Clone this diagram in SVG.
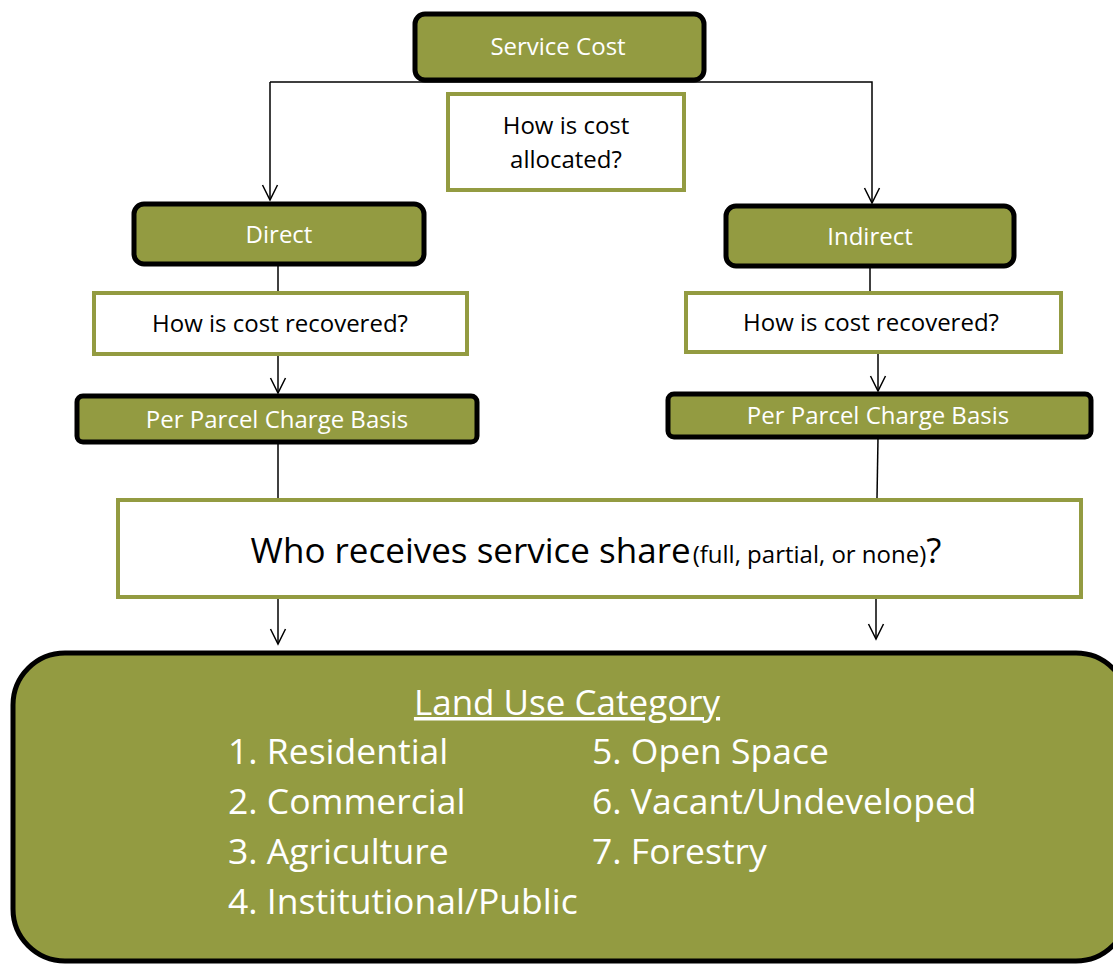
<svg xmlns="http://www.w3.org/2000/svg" width="1113" height="964" viewBox="0 0 1113 964">
<defs>
<marker id="arr" markerWidth="18" markerHeight="18" refX="16" refY="9" orient="auto" markerUnits="userSpaceOnUse" viewBox="0 0 18 18">
<path d="M1,1.5 L16,9 L1,16.5" fill="none" stroke="#000" stroke-width="1.5"/>
</marker>
<style>
.g{fill:#939B41;stroke:#000;stroke-width:5}
.w{fill:#fff;stroke:#939B41;stroke-width:4}
.tw{font-family:"Open Sans","Liberation Sans",sans-serif;fill:#fff;text-anchor:middle}
.tb{font-family:"Open Sans","Liberation Sans",sans-serif;fill:#000;text-anchor:middle}
.c{fill:none;stroke:#000;stroke-width:1.5}
.li{font-family:"Open Sans","Liberation Sans",sans-serif;fill:#fff;font-size:35.5px}
</style>
</defs>
<rect width="1113" height="964" fill="#fff"/>
<g id="connectors">
<polyline class="c" points="270,82 270,200" marker-end="url(#arr)"/>
<polyline class="c" points="270,82 872,82 872,203" marker-end="url(#arr)"/>
<line class="c" x1="278" y1="265" x2="278" y2="293"/>
<line class="c" x1="278" y1="355" x2="278" y2="393" marker-end="url(#arr)"/>
<line class="c" x1="870" y1="267" x2="870" y2="292"/>
<line class="c" x1="878" y1="353" x2="878" y2="391" marker-end="url(#arr)"/>
<line class="c" x1="278" y1="443" x2="278" y2="498"/>
<line class="c" x1="878" y1="438" x2="877" y2="498"/>
<line class="c" x1="278" y1="598" x2="278" y2="644" marker-end="url(#arr)"/>
<line class="c" x1="876" y1="598" x2="876" y2="639" marker-end="url(#arr)"/>
</g>
<g id="service-cost">
<rect class="g" x="415" y="14" width="289" height="66" rx="10"/>
<text class="tw" x="558" y="55" font-size="24">Service Cost</text>
</g>
<g id="allocated">
<rect class="w" x="448" y="94" width="236" height="96"/>
<text class="tb" x="566" y="134" font-size="24">How is cost</text>
<text class="tb" x="566" y="168" font-size="24">allocated?</text>
</g>
<g id="direct">
<rect class="g" x="134" y="204" width="290" height="60" rx="10"/>
<text class="tw" x="279" y="243" font-size="24">Direct</text>
</g>
<g id="indirect">
<rect class="g" x="726" y="206" width="288" height="60" rx="10"/>
<text class="tw" x="870" y="245" font-size="24">Indirect</text>
</g>
<g id="recovered-left">
<rect class="w" x="94" y="293" width="373" height="61"/>
<text class="tb" x="280" y="332" font-size="24">How is cost recovered?</text>
</g>
<g id="recovered-right">
<rect class="w" x="686" y="293" width="375" height="59"/>
<text class="tb" x="871" y="331" font-size="24">How is cost recovered?</text>
</g>
<g id="parcel-left">
<rect class="g" x="77" y="396" width="400" height="46" rx="6"/>
<text class="tw" x="277" y="428" font-size="24">Per Parcel Charge Basis</text>
</g>
<g id="parcel-right">
<rect class="g" x="668" y="394" width="423" height="43" rx="6"/>
<text class="tw" x="878" y="424" font-size="24">Per Parcel Charge Basis</text>
</g>
<g id="who-receives">
<rect class="w" x="118" y="500" width="963" height="97"/>
<text class="tb" x="596" y="563" font-size="35">Who receives service share<tspan font-size="24" dx="2">(full, partial, or none)</tspan>?</text>
</g>
<g id="land-use">
<rect class="g" x="13" y="653" width="1115" height="308" rx="52"/>
<text class="tw" x="567" y="715" font-size="35" text-decoration="underline">Land Use Category</text>
<text class="li" x="228" y="764">1. Residential</text>
<text class="li" x="228" y="814">2. Commercial</text>
<text class="li" x="228" y="864">3. Agriculture</text>
<text class="li" x="228" y="914">4. Institutional/Public</text>
<text class="li" x="592" y="764">5. Open Space</text>
<text class="li" x="592" y="814">6. Vacant/Undeveloped</text>
<text class="li" x="592" y="864">7. Forestry</text>
</g>
</svg>
